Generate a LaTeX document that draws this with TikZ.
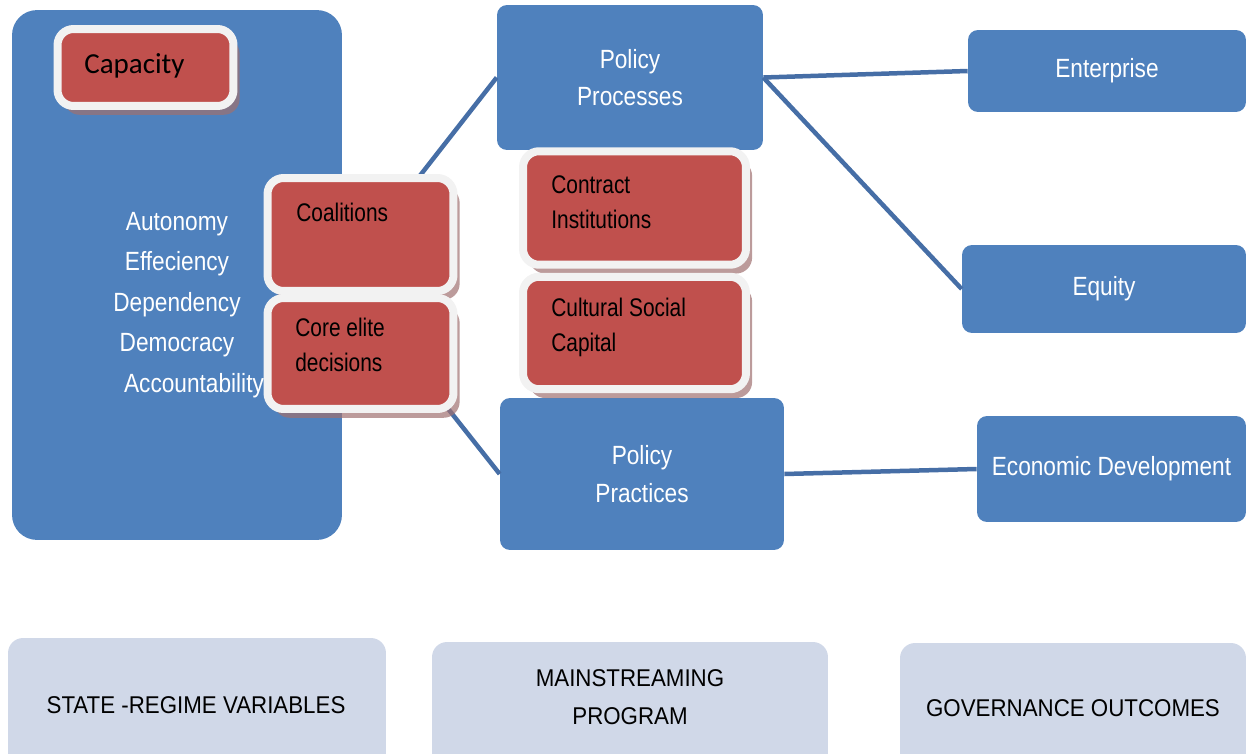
\documentclass[tikz,border=0pt]{standalone}
\usepackage{fontspec}
\setmainfont{Liberation Sans}
\newfontfamily\capfont{Carlito}
\newfontfamily\lightfont[FakeStretch=0.86]{Liberation Sans}
\newfontfamily\darkfont[FakeStretch=0.82]{Liberation Sans}
\newfontfamily\basefont[FakeStretch=0.92]{Liberation Sans}
\usetikzlibrary{shadows}
\definecolor{boxblue}{HTML}{4F81BD}
\definecolor{lineblue}{HTML}{466EA6}
\definecolor{boxred}{HTML}{C0504D}
\definecolor{rim}{HTML}{F2F2F2}
\definecolor{shade}{HTML}{A07070}
\definecolor{pale}{HTML}{D0D8E8}
\tikzset{
    bluebox/.style = {
        fill=boxblue, rounded corners=0.2cm, inner sep=0pt, text=white, align=center,
        font=\lightfont\fontsize{15}{21.5}\selectfont
    },
    redbox/.style = {
        fill=boxred, draw=rim, line width=0.16cm, rounded corners=0.32cm, inner sep=0pt,
        drop shadow={shadow xshift=3.5pt, shadow yshift=-5pt, fill=shade, opacity=0.7}
    },
    redtext/.style = {inner sep=0pt, anchor=west, align=left, font=\darkfont\fontsize{14.5}{20}\selectfont},
    palebox/.style = {fill=pale, rounded corners=0.3cm, inner sep=0pt},
    paletext/.style = {inner sep=0pt, align=center, font=\basefont\fontsize{13.8}{21.5}\selectfont},
    link/.style = {lineblue, line width=0.09cm}
}

\begin{document}
\begin{tikzpicture}[x=0.02cm, y=-0.02cm]
    \useasboundingbox (0, 0) rectangle (1249, 754);
    \clip (0, 0) rectangle (1249, 754);
    \node[fill=boxblue, rounded corners=0.5cm, minimum width=6.6cm, minimum height=10.6cm] (state) at (177, 275) {};
    \node[bluebox, minimum width=5.32cm, minimum height=2.9cm] (pproc) at (630, 77.5) {Policy\\Processes};
    \node[bluebox, minimum width=5.68cm, minimum height=3.04cm] (ppract) at (642, 474) {Policy\\Practices};
    \node[bluebox, minimum width=5.56cm, minimum height=1.64cm] (ent) at (1107, 71) {Enterprise};
    \node[bluebox, minimum width=5.68cm, minimum height=1.76cm] (eq) at (1104, 289) {Equity};
    \node[bluebox, minimum width=5.38cm, minimum height=2.12cm] (econ) at (1111.5, 469) {Economic Development};
    \draw[link] (state.east) -- (pproc.west);
    \draw[link] (state.east) -- (ppract.west);
    \draw[link] (pproc.east) -- (ent.west);
    \draw[link] (pproc.east) -- (eq.west);
    \draw[link] (ppract.east) -- (econ.west);
    \node[redbox, minimum width=3.52cm, minimum height=1.54cm] (cap) at (145.5, 67.5) {};
    \node[inner sep=0pt, anchor=west, font=\capfont\fontsize{16.5}{20}\selectfont] (captext) at (84, 66) {Capacity};
    \node[inner sep=0pt, text=white, align=center, font=\lightfont\fontsize{15}{23}\selectfont] (vars) at (177, 305)
        {Autonomy\\Effeciency\\Dependency\\Democracy\\\hspace*{0.68cm}Accountability};
    \node[redbox, minimum width=3.72cm, minimum height=2.26cm] (coal) at (360.5, 234.5) {};
    \node[redbox, minimum width=3.72cm, minimum height=2.22cm] (core) at (360.5, 353.5) {};
    \node[redbox, minimum width=4.46cm, minimum height=2.27cm] (contract) at (634.5, 208) {};
    \node[redbox, minimum width=4.46cm, minimum height=2.25cm] (culture) at (634.5, 333) {};
    \node[redtext] (coaltext) at (296, 212) {Coalitions};
    \node[redtext] (coretext) at (295, 345) {Core elite\\decisions};
    \node[redtext] (contracttext) at (551, 202) {Contract\\Institutions};
    \node[redtext] (culturetext) at (551, 327) {Cultural Social\\Capital};
    \node[palebox, minimum width=7.56cm, minimum height=4cm] (statelabel) at (197, 738) {};
    \node[palebox, minimum width=7.92cm, minimum height=4cm] (mainlabel) at (630, 742) {};
    \node[palebox, minimum width=6.92cm, minimum height=4cm] (govlabel) at (1073, 743) {};
    \node[paletext] (statetext) at (196, 705) {STATE -REGIME VARIABLES};
    \node[paletext] (maintext) at (630, 697) {MAINSTREAMING\\PROGRAM};
    \node[paletext] (govtext) at (1073, 708) {GOVERNANCE OUTCOMES};
\end{tikzpicture}
\end{document}
